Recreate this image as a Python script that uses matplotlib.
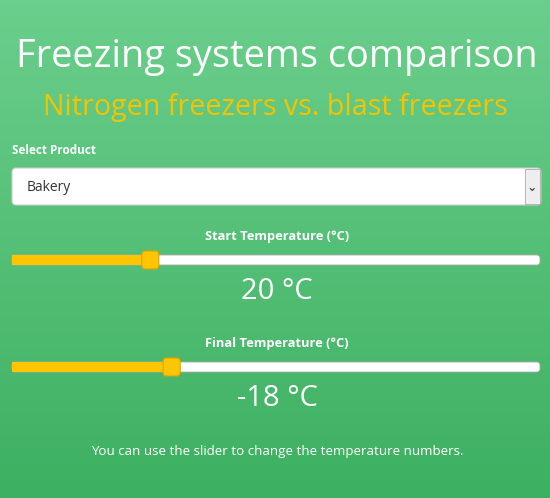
import numpy as np
import matplotlib.pyplot as plt
from matplotlib.patches import FancyBboxPatch, Rectangle

title = "Freezing systems comparison"
subtitle = "Nitrogen freezers vs. blast freezers"
product = "Bakery"
sliders = ["Start Temperature (°C)", "Final Temperature (°C)"]
values = [20, -18]
ranges = [(-10, 105), (-40, 33)]
note = "You can use the slider to change the temperature numbers."

fig = plt.figure(figsize=(5.5, 4.98), dpi=100)
ax = fig.add_axes([0, 0, 1, 1])
ax.set_xlim(0, 550)
ax.set_ylim(498, 0)
ax.axis("off")

# green gradient background
grad = np.linspace(0, 1, 256).reshape(-1, 1)
top = np.array([0.42, 0.81, 0.55])
bot = np.array([0.24, 0.69, 0.38])
img = top + (bot - top) * grad[..., None]
ax.imshow(img, extent=[0, 550, 498, 0], aspect="auto", zorder=0)

ff = "Open Sans"
ax.text(277, 57, title, ha="center", va="center", color="white", fontsize=27.3, family=ff)
ax.text(275, 107, subtitle, ha="center", va="center", color="#f5c400", fontsize=20.6, family=ff)
ax.text(12, 150, "Select Product", ha="left", va="center", color="white", fontsize=8.5,
        weight="bold", family=ff)

# select box
ax.add_patch(FancyBboxPatch((12, 168), 529, 37, boxstyle="round,pad=0,rounding_size=4",
                            fc="white", ec="#cccccc", lw=0.8, zorder=2))
ax.add_patch(Rectangle((525, 169), 15, 35, fc="#eeeeee", ec="#aaaaaa", lw=0.6, zorder=3))
ax.text(532, 187, "⌄", ha="center", va="center", fontsize=9, color="#333333", zorder=4)
ax.text(27, 187, product, ha="left", va="center", fontsize=10, color="#333333", family=ff, zorder=4)

x0, x1 = 12, 540
for i, (lab, v, (lo, hi)) in enumerate(zip(sliders, values, ranges)):
    yl = 236 + i * 107
    ax.text(277, yl, lab, ha="center", va="center", color="white", fontsize=9.3,
            weight="bold", family=ff)
    yt = yl + 24
    xv = x0 + (v - lo) / (hi - lo) * (x1 - x0)
    ax.add_patch(FancyBboxPatch((x0, yt - 5), x1 - x0, 10, boxstyle="round,pad=0,rounding_size=3",
                                fc="white", ec="#aaaaaa", lw=0.6, zorder=2))
    ax.add_patch(Rectangle((x0, yt - 5), xv - x0, 10, fc="#ffc600", ec="none", zorder=3))
    ax.add_patch(FancyBboxPatch((xv - 8, yt - 9), 17, 18, boxstyle="round,pad=0,rounding_size=3",
                                fc="#ffc600", ec="#d9a400", lw=0.8, zorder=4))
    ax.text(277, yt + 31, f"{v} °C", ha="center", va="center", color="white", fontsize=21, family=ff)

ax.text(277, 451, note, ha="center", va="center", color="white", fontsize=9.6, family=ff)

fig.savefig("out.png", dpi=100)
